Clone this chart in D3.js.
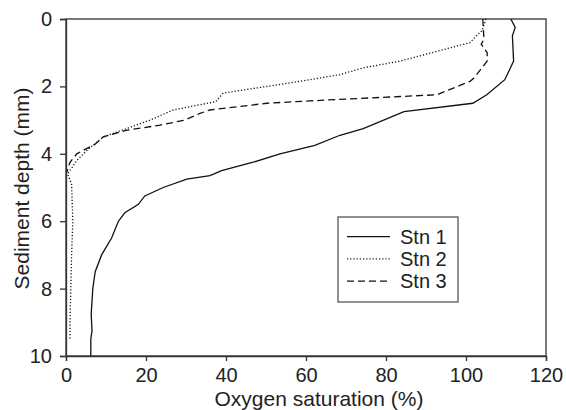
<!DOCTYPE html>
<html>
<head>
<meta charset="utf-8">
<script src="https://cdn.jsdelivr.net/npm/d3@7"></script>
<style>
  body { margin: 0; background: #fff; }
  text { font-family: "Liberation Sans", Arial, sans-serif; fill: #222; }
</style>
</head>
<body>
<div id="chart"></div>
<script>
// depth (mm) and oxygen saturation (%) for each station
const depth1 = [0, 0.25, 0.5, 1.25, 1.8, 2.25, 2.5, 2.75, 3.25, 3.45, 3.75, 4.0, 4.25, 4.5, 4.65, 4.75, 5.0, 5.25, 5.5, 5.75, 6.0, 6.5, 7.0, 7.5, 8.0, 8.75, 9.25, 9.5, 10];
const sat1 = [111.2, 112.3, 111.6, 111.9, 109.7, 105.2, 101.7, 84.5, 74.3, 68.5, 62.2, 53.5, 46.8, 38.9, 36, 30.2, 24.3, 19.7, 18.1, 14.7, 13.1, 11.4, 8.9, 7.3, 6.7, 6.3, 6.5, 6.2, 6.2];

const depth2 = [0, 0.35, 0.45, 0.7, 1.25, 1.45, 1.65, 1.85, 2.0, 2.2, 2.45, 2.7, 3.0, 3.25, 3.5, 3.9, 4.2, 4.6, 4.9, 6.0, 7.0, 8.0, 9.0, 9.5];
const sat2 = [105, 104, 103, 101, 83.5, 74.3, 68.5, 58.5, 50.2, 39.3, 37.5, 26.8, 21, 15.2, 9.3, 5.2, 2.7, 0.4, 1.4, 1.7, 1.4, 1.2, 1.0, 1.0];

const depth3 = [0, 0.25, 0.6, 0.75, 1.0, 1.25, 1.75, 1.85, 2.25, 2.3, 2.37, 2.43, 2.5, 2.7, 2.8, 3.0, 3.15, 3.3, 3.5, 3.72, 4.0, 4.25, 4.55];
const sat3 = [104.2, 104.3, 104.5, 103.8, 105.3, 105.3, 102, 101, 92.7, 83.5, 71, 61, 50.2, 36, 33.5, 29.7, 23.5, 15.2, 9.3, 7.2, 2.7, 1.0, 0.2];

const stations = ['Stn 1', 'Stn 2', 'Stn 3'];
const xTicks = [0, 20, 40, 60, 80, 100, 120];
const yTicks = [0, 2, 4, 6, 8, 10];

const w = 566;
const h = 410;
const margin = { top: 19, right: 20, bottom: 54, left: 66 };
const fs = 20;

const series = [
  { name: stations[0], pts: depth1.map((d, i) => [sat1[i], d]), dash: null },
  { name: stations[1], pts: depth2.map((d, i) => [sat2[i], d]), dash: '1.2,2' },
  { name: stations[2], pts: depth3.map((d, i) => [sat3[i], d]), dash: '7,4' },
];

const svg = d3.select('#chart')
  .append('svg')
    .attr('width', w)
    .attr('height', h);

const xScale = d3.scaleLinear()
  .domain([0, 120])
  .range([margin.left, w - margin.right]);

const yScale = d3.scaleLinear()
  .domain([0, 10])
  .range([margin.top, h - margin.bottom]);

// frame
svg.append('rect')
  .attr('x', xScale(0))
  .attr('y', yScale(0))
  .attr('width', xScale(120) - xScale(0))
  .attr('height', yScale(10) - yScale(0))
  .attr('fill', 'none')
  .attr('stroke', '#333')
  .attr('stroke-width', 1.3);

const xAxis = d3.axisBottom(xScale).tickValues(xTicks).tickSize(5).tickPadding(7);
const yAxis = d3.axisLeft(yScale).tickValues(yTicks).tickSize(6).tickPadding(8);

const gx = svg.append('g')
  .attr('transform', `translate(0, ${yScale(10)})`)
  .call(xAxis);

const gy = svg.append('g')
  .attr('transform', `translate(${xScale(0)}, 0)`)
  .call(yAxis);

[gx, gy].forEach(g => {
  g.select('.domain').attr('stroke', '#333').attr('stroke-width', 1.3);
  g.selectAll('.tick line').attr('stroke', '#333').attr('stroke-width', 1.3);
  g.selectAll('.tick text')
    .attr('font-size', fs)
    .attr('font-family', '"Liberation Sans", Arial, sans-serif')
    .attr('fill', '#222');
});

const line = d3.line()
  .x(d => xScale(d[0]))
  .y(d => yScale(d[1]));

svg.selectAll('.stn')
  .data(series)
  .enter()
  .append('path')
    .attr('class', 'stn')
    .attr('d', d => line(d.pts))
    .attr('fill', 'none')
    .attr('stroke', '#111')
    .attr('stroke-width', 1.3)
    .attr('stroke-dasharray', d => d.dash);

// axis titles
svg.append('text')
  .attr('x', 319)
  .attr('y', 406)
  .attr('text-anchor', 'middle')
  .attr('font-size', 21)
  .text('Oxygen saturation (%)');

svg.append('text')
  .attr('transform', `translate(29, ${(yScale(0) + yScale(10)) / 2 + 1}) rotate(-90)`)
  .attr('text-anchor', 'middle')
  .attr('font-size', 21)
  .text('Sediment depth (mm)');

// legend
const legend = svg.append('g').attr('transform', 'translate(338, 217)');

legend.append('rect')
  .attr('width', 120)
  .attr('height', 85)
  .attr('fill', '#fff')
  .attr('stroke', '#555')
  .attr('stroke-width', 1.3);

const items = legend.selectAll('.item')
  .data(series)
  .enter()
  .append('g')
    .attr('class', 'item')
    .attr('transform', (d, i) => `translate(0, ${19.7 + i * 22.2})`);

items.append('line')
  .attr('x1', 9)
  .attr('x2', 52)
  .attr('stroke', '#111')
  .attr('stroke-width', 1.3)
  .attr('stroke-dasharray', d => d.dash);

items.append('text')
  .attr('x', 62)
  .attr('y', 7)
  .attr('font-size', fs)
  .text(d => d.name);
</script>
</body>
</html>
